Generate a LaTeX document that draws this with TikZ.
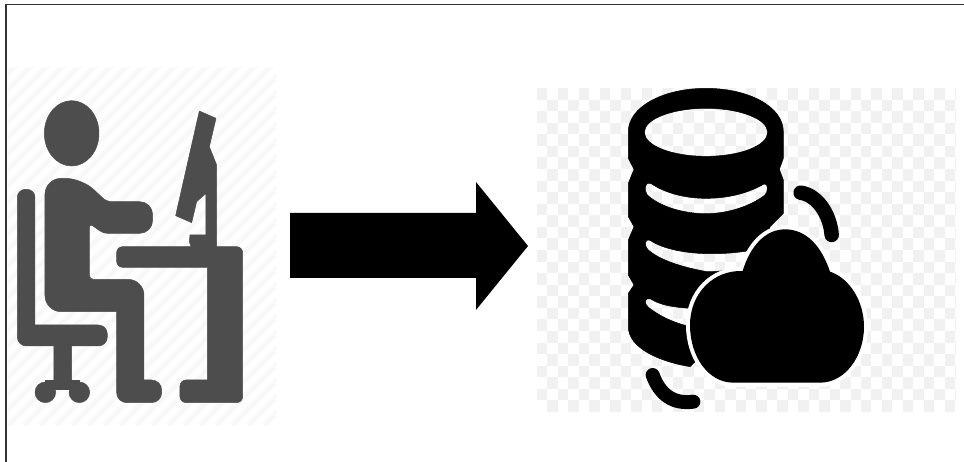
\documentclass[tikz,border=0pt]{standalone}
\definecolor{personc}{HTML}{4D4D4D}
\definecolor{stripec}{HTML}{F8F8F8}
\definecolor{checkc}{HTML}{F1F1F1}
\definecolor{framec}{HTML}{333333}
\tikzset{
  person/.style={fill=personc,draw=personc,line width=0.5pt,line join=round},
  dbfill/.style={fill=black,draw=black,line width=0.5pt,line join=round},
  orbit/.style={draw=black,line cap=round},
  framel/.style={draw=framec,line width=1.6pt},
  lefticon/.style={x=0.33333pt,y=-0.33333pt,shift={(0pt,-50pt)}},
  righticon/.style={x=0.33333pt,y=-0.33333pt,shift={(520pt,-70pt)}}
}
\newcommand{\cloudpath}{(640,938) .. controls (565,938) and (510,860) .. (510,765) .. controls (510,670) and (580,600) .. (668,603) .. controls (690,530) and (735,478) .. (795,478) .. controls (860,478) and (905,530) .. (930,605) .. controls (990,625) and (1032,695) .. (1032,770) .. controls (1032,860) and (975,938) .. (900,938) -- cycle}
\begin{document}
\begin{tikzpicture}[x=1pt,y=-1pt]
\useasboundingbox (0,0) rectangle (964,462);
\fill[white] (0,0) rectangle (964,462);
% stripes
\begin{scope}
\clip (8,68) rectangle (276,425);
\foreach \i in {-360,-344,...,280}{
  \draw[stripec,line width=5pt] (\i,425) -- ++(360,-360);
}
\end{scope}
% checker
\begin{scope}
\clip (537,88) rectangle (956,412);
\foreach \r in {0,...,27}{
  \pgfmathtruncatemacro{\off}{mod(\r,2)}
  \foreach \c in {0,2,...,40}{
    \fill[checkc] ({537+(\c+\off)*10.45},{88+\r*11.57}) rectangle ++(10.45,11.57);
  }
}
\end{scope}
% frame
\draw[framel] (6,462) -- (6,4.5) -- (964,4.5);
% arrow
\fill[black] (290,213) -- (476,213) -- (476,182) -- (528,246) -- (476,310) -- (476,278) -- (290,278) -- cycle;
% person
\begin{scope}[lefticon]
\path[person] (215,250) ellipse [x radius=82,y radius=98];
% body
\path[person,rounded corners=16pt] (135,500) -- (135,385) -- (245,385) [rounded corners=5pt] -- (320,455) [rounded corners=13pt] -- (458,455) -- (458,550) [rounded corners=4pt] -- (310,550) -- (268,520) -- (268,688) [rounded corners=16pt] -- (432,688) [rounded corners=0pt] -- (432,990) [rounded corners=10pt] -- (485,990) -- (485,1058) -- (350,1058) [rounded corners=0pt] -- (350,785) [rounded corners=16pt] -- (135,785) -- cycle;
% chair
\path[person,rounded corners=8.5pt] (105,600) [rounded corners=8pt] -- (105,418) -- (52,418) [rounded corners=9pt] -- (52,888) [rounded corners=0pt] -- (162,888) -- (162,990) -- (215,990) -- (215,888) [rounded corners=9pt] -- (322,888) -- (322,825) [rounded corners=0pt] -- (105,825) -- cycle;
\path[person] (136,1027) circle [radius=31];
\path[person] (238,1027) circle [radius=31];
\path[person] (136,990) rectangle (238,1018);
% desk
\path[person,rounded corners=6pt] (500,590) -- (728,590) -- (728,1058) -- (540,1058) -- (540,990) [rounded corners=0pt] -- (622,990) -- (622,652) [rounded corners=6pt] -- (350,652) -- (350,590) -- cycle;
% monitor
\path[person] (598,183) -- (648,205) -- (628,290) -- (650,345) -- (650,595) -- (575,595) -- (568,575) -- (570,555) -- (618,555) -- (618,430) -- (590,455) -- (575,518) -- (527,497) -- cycle;
\end{scope}
% database and cloud
\begin{scope}[righticon]
\path[dbfill,even odd rule]
  (325,185) .. controls (325,110) and (430,55) .. (558,55) .. controls (686,55) and (790,110) .. (790,185)
  -- (790,265) -- (778,298) -- (790,330) -- (790,430) -- (750,470) -- (700,700) -- (510,890)
  .. controls (420,875) and (325,835) .. (325,770)
  -- (325,670) -- (342,645) -- (325,615) -- (325,510) -- (342,470) -- (325,440) -- (325,340) -- (342,298) -- (325,265) -- cycle
  (373,187) .. controls (373,147) and (456,115) .. (558,115) .. controls (660,115) and (743,147) .. (743,187) .. controls (743,227) and (660,259) .. (558,259) .. controls (456,259) and (373,227) .. (373,187) -- cycle
  (392,340) .. controls (440,372) and (500,385) .. (558,385) .. controls (620,385) and (680,372) .. (732,342) .. controls (745,338) and (745,365) .. (735,375) .. controls (690,410) and (620,431) .. (558,431) .. controls (490,431) and (420,410) .. (382,375) .. controls (370,360) and (375,333) .. (392,340) -- cycle
  (392,512) .. controls (440,545) and (560,565) .. (700,540) -- (700,580) .. controls (650,600) and (600,605) .. (560,605) .. controls (480,590) and (420,570) .. (385,540) .. controls (370,525) and (375,503) .. (392,512) -- cycle
  (392,687) .. controls (420,705) and (460,712) .. (510,715) -- (510,770) .. controls (450,755) and (415,735) .. (385,712) .. controls (370,700) and (375,680) .. (392,687) -- cycle;
\path[fill=black,draw=white,line width=8pt,line join=round] \cloudpath;
\path[fill=black] \cloudpath;
\draw[orbit,line width=14.5pt] (842,368) .. controls (890,375) and (930,430) .. (935,495);
\draw[orbit,line width=14pt] (398,915) .. controls (420,975) and (460,1003) .. (520,995);
\end{scope}
\end{tikzpicture}
\end{document}
